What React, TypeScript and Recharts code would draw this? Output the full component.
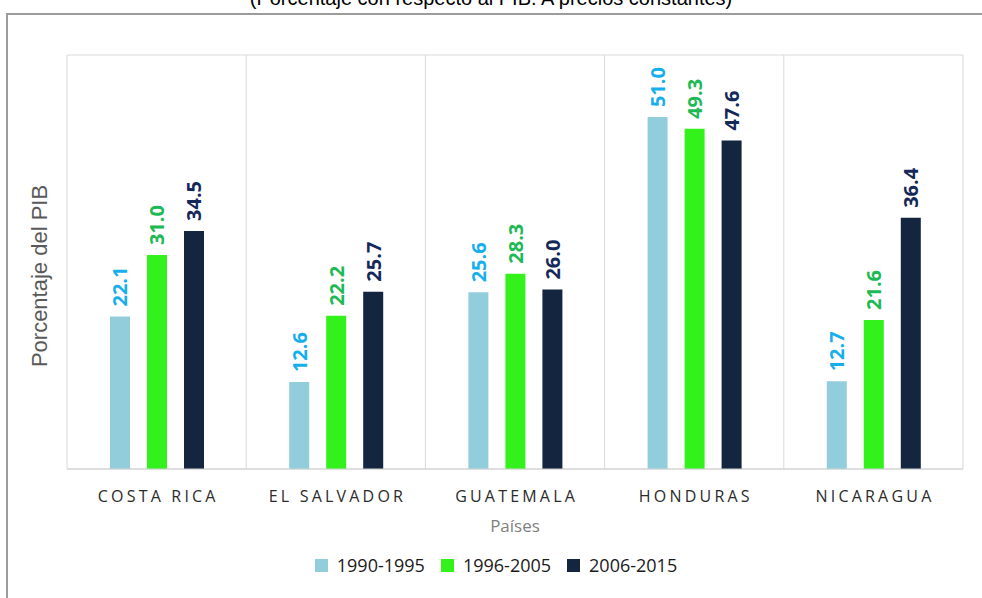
import { Bar, BarChart, CartesianGrid, LabelList, Legend, XAxis, YAxis, Label } from "recharts";

const countries = ["COSTA RICA", "EL SALVADOR", "GUATEMALA", "HONDURAS", "NICARAGUA"];
const periods = ["1990-1995", "1996-2005", "2006-2015"];
const p1990 = [22.1, 12.6, 25.6, 51.0, 12.7];
const p1996 = [31.0, 22.2, 28.3, 49.3, 21.6];
const p2006 = [34.5, 25.7, 26.0, 47.6, 36.4];

const barColors = ["#92CDDC", "#33F21C", "#13253F"];
const labelColors = ["#17AEEE", "#1DB954", "#14285A"];

const data = countries.map((c, i) => ({
    name: c,
    [periods[0]]: p1990[i],
    [periods[1]]: p1996[i],
    [periods[2]]: p2006[i],
}));

const FONT = "'Open Sans', sans-serif";

const makeLabel = (color: string) => (props: any) => {
    const { x, y, width, value } = props;
    const cx = Number(x) + Number(width) / 2;
    const cy = Number(y) - 10;
    return (
        <text
            x={cx}
            y={cy}
            transform={`rotate(-90 ${cx} ${cy})`}
            textAnchor="start"
            dominantBaseline="central"
            fill={color}
            fontSize={20}
            fontWeight="bold"
            fontFamily={FONT}
        >
            {Number(value).toFixed(1)}
        </text>
    );
};

const CountryTick = ({ x, y, payload }: any) => (
    <text
        x={x}
        y={y + 33}
        dx={1.6}
        textAnchor="middle"
        fill="#2b2b2b"
        fontSize={16}
        letterSpacing={3.2}
        fontFamily={FONT}
    >
        {payload.value}
    </text>
);

const LegendContent = () => (
    <div style={{ display: "flex", justifyContent: "center", alignItems: "center", height: 24, fontFamily: FONT, paddingLeft: 29 }}>
        {periods.map((p, i) => (
            <div key={p} style={{ display: "flex", alignItems: "center", marginRight: i < 2 ? 16 : 0 }}>
                <span style={{ width: 13, height: 13, background: barColors[i], display: "inline-block", marginRight: 9 }} />
                <span style={{ fontSize: 18, color: "#1a1a1a" }}>{p}</span>
            </div>
        ))}
    </div>
);

const App = () => {
    return (
        <div style={{ position: "absolute", left: 0, top: 0, width: 982, height: 598, overflow: "hidden", background: "#fff" }}>
            <div
                style={{
                    position: "absolute",
                    left: 0,
                    width: 982,
                    top: -13,
                    textAlign: "center",
                    fontFamily: "'Liberation Sans', Arial, sans-serif",
                    fontSize: 20,
                    color: "#000",
                }}
            >
                (Porcentaje con respecto al PIB. A precios constantes)
            </div>
            <div
                style={{
                    position: "absolute",
                    left: 6,
                    top: 13,
                    width: 990,
                    height: 600,
                    borderLeft: "2px solid #9c9c9c",
                    borderTop: "2px solid #9c9c9c",
                }}
            />
            <div style={{ position: "absolute", left: 0, top: 0 }}>
                <BarChart
                    width={982}
                    height={598}
                    data={data}
                    margin={{ top: 55, right: 19, left: 0, bottom: 21 }}
                    barSize={20}
                    barGap={17}
                >
                    <CartesianGrid
                        stroke="#d9d9d9"
                        verticalCoordinatesGenerator={({ offset }: any) =>
                            countries.map((_, i) => offset.left + (i * offset.width) / countries.length).concat([offset.left + offset.width])
                        }
                        horizontalCoordinatesGenerator={({ offset }: any) => [offset.top, offset.top + offset.height]}
                    />
                    <XAxis
                        dataKey="name"
                        height={84}
                        tickSize={0}
                        tickMargin={0}
                        tick={<CountryTick />}
                        axisLine={{ stroke: "#d0d0d0" }}
                        tickLine={false}
                    >
                        <Label
                            value="Países"
                            position="insideBottom"
                            offset={21}
                            fill="#7f7f7f"
                            fontSize={17}
                            fontFamily={FONT}
                        />
                    </XAxis>
                    <YAxis
                        width={67}
                        domain={[0, 60]}
                        tick={false}
                        axisLine={false}
                        tickLine={false}
                    >
                        <Label
                            content={({ viewBox }: any) => {
                                const cx = 39;
                                const cy = viewBox.y + viewBox.height / 2 + 14;
                                return (
                                    <text
                                        x={cx}
                                        y={cy}
                                        transform={`rotate(-90 ${cx} ${cy})`}
                                        textAnchor="middle"
                                        dominantBaseline="central"
                                        fill="#595959"
                                        fontSize={22}
                                        fontFamily="'Liberation Sans', Arial, sans-serif"
                                    >
                                        Porcentaje del PIB
                                    </text>
                                );
                            }}
                        />
                    </YAxis>
                    <Legend verticalAlign="bottom" wrapperStyle={{ height: 24 }} content={<LegendContent />} />
                    {periods.map((p, i) => (
                        <Bar key={p} dataKey={p} fill={barColors[i]} isAnimationActive={false}>
                            <LabelList dataKey={p} content={makeLabel(labelColors[i])} />
                        </Bar>
                    ))}
                </BarChart>
            </div>
        </div>
    );
};

export default App;
